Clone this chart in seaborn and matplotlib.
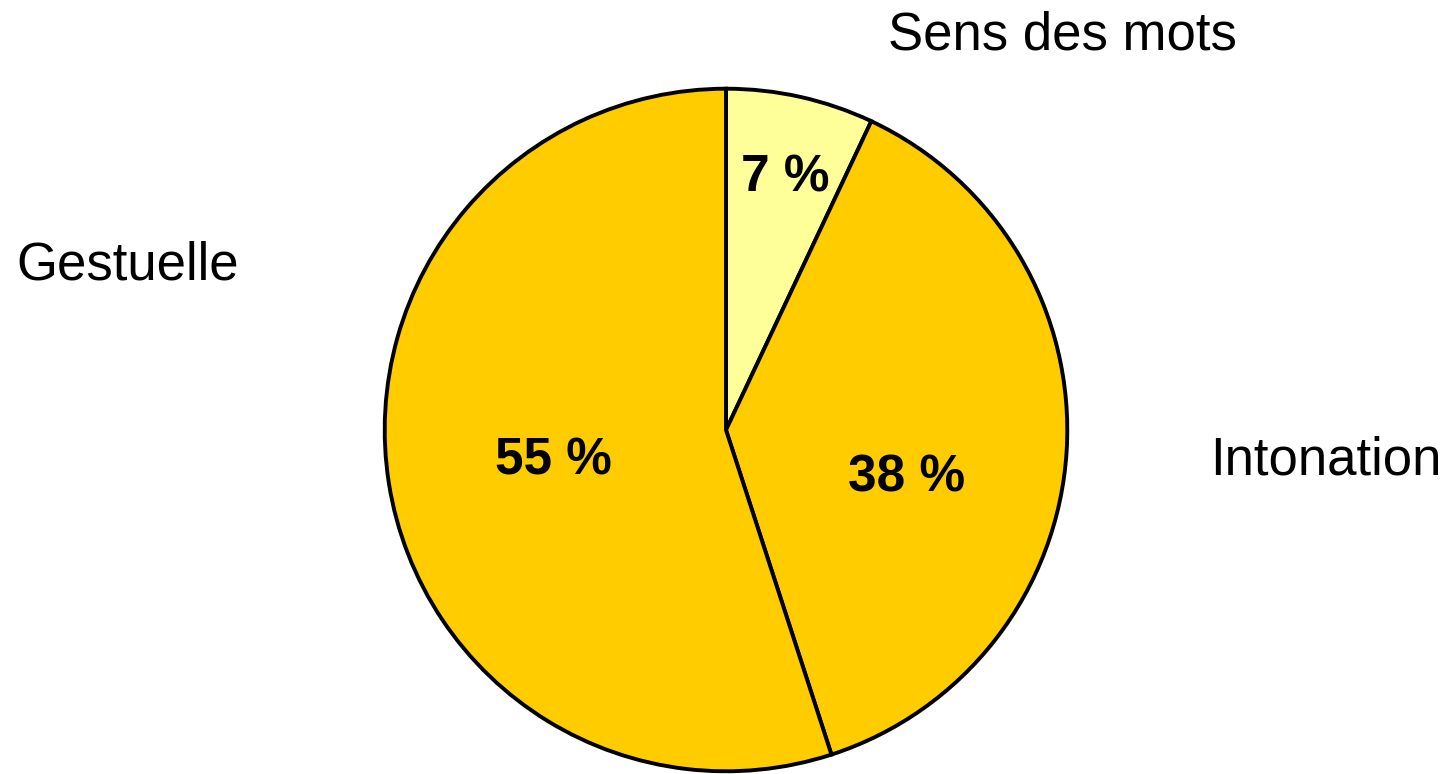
import matplotlib
matplotlib.use("Agg")
import matplotlib.pyplot as plt
import seaborn as sns
import numpy as np

categories = ["Sens des mots", "Intonation", "Gestuelle"]
values = [7, 38, 55]
pct_labels = ["7 %", "38 %", "55 %"]
colors = ["#FFFF99", "#FFCC00", "#FFCC00"]

sns.set_theme(style="white")
plt.rcParams["font.family"] = ["Liberation Sans", "DejaVu Sans"]

W, H = 1450, 774
fig = plt.figure(figsize=(W / 100, H / 100), dpi=100)
cx, cy, r = 726, 430, 343
ax = fig.add_axes([(cx - r) / W, (H - cy - r) / H, 2 * r / W, 2 * r / H])

wedges, _ = ax.pie(values, colors=colors, startangle=90, counterclock=False,
                   radius=0.995,
                   wedgeprops=dict(edgecolor="black", linewidth=2.8))
for w in wedges:
    w.set_clip_on(False)
ax.set_xlim(-1, 1)
ax.set_ylim(-1, 1)
ax.set_aspect("equal")
ax.axis("off")

# inner percentage labels (positions in radius units)
inner_pos = [(0.172, 0.735), (0.525, -0.139), (-0.504, -0.090)]
for (x, y), t in zip(inner_pos, pct_labels):
    ax.text(x, y, t, ha="center", va="center", fontsize=37, fontweight="bold",
            color="black")

# outer category labels
outer_pos = [(0.98, 1.150), (1.749, -0.090), (-1.743, 0.479)]
for (x, y), t in zip(outer_pos, categories):
    ax.text(x, y, t, ha="center", va="center", fontsize=38, color="black",
            clip_on=False)

fig.savefig("out.png", dpi=100, facecolor="white")
